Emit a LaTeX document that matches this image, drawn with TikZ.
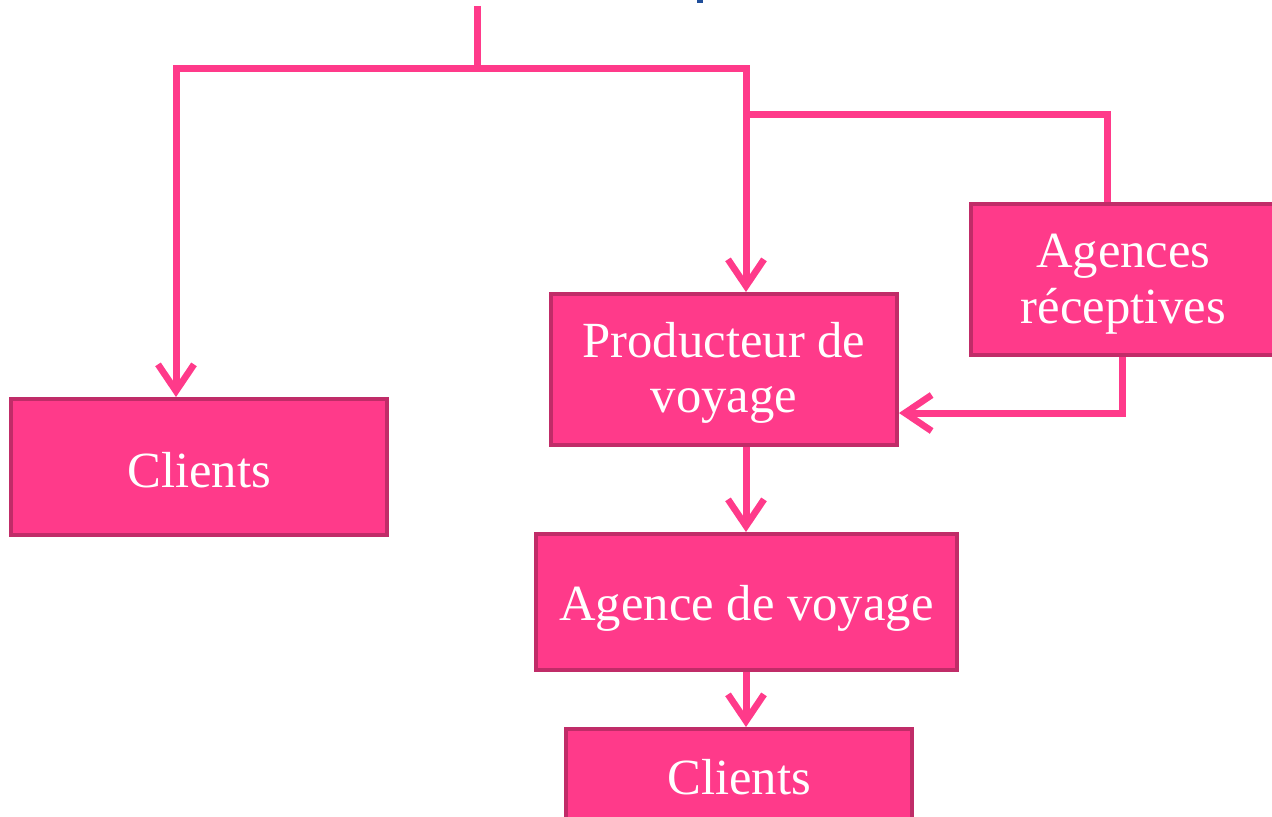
\documentclass[tikz,border=0pt]{standalone}
\usepackage{fontspec}
\setmainfont{Liberation Serif}
\usetikzlibrary{arrows.meta}
\definecolor{pinkfill}{HTML}{FF3A8A}
\definecolor{pinkedge}{HTML}{C02C68}
\definecolor{topblue}{HTML}{1F4E9A}
\tikzset{
  box/.style={draw=pinkedge, fill=pinkfill, line width=3pt, rectangle, inner sep=0pt},
  txt/.style={text=white, align=center, inner sep=0pt, font=\fontsize{38}{41.5}\selectfont},
  conn/.style={draw=pinkfill, line width=5.25pt},
  arr/.style={conn, -{Straight Barb[length=20pt,width=27pt,line width=5pt]}},
}
\begin{document}
\begin{tikzpicture}[x=0.75pt,y=-0.75pt]
\useasboundingbox (0,0) rectangle (1272,817);
\clip (0,0) rectangle (1272,817);
% nodes
\node[box, minimum width=376*0.75pt, minimum height=136*0.75pt,
  label={[txt, yshift=-2.5pt]center:Clients}] (cl1) at (199,467) {};
\node[box, minimum width=346*0.75pt, minimum height=151*0.75pt,
  label={[txt, yshift=-2.5pt]center:Producteur de\\voyage}] (prod) at (724,369.5) {};
\node[box, minimum width=310*0.75pt, minimum height=151*0.75pt,
  label={[txt, xshift=-2pt, yshift=-3.5pt]center:Agences\\réceptives}] (rec) at (1126,279.5) {};
\node[box, minimum width=421*0.75pt, minimum height=136*0.75pt,
  label={[txt, yshift=-4.5pt]center:Agence de voyage}] (agv) at (746.5,602) {};
\node[box, minimum width=346*0.75pt, minimum height=136*0.75pt,
  label={[txt, yshift=15pt]center:Clients}] (cl2) at (739,797) {};
% small cut-off blue mark at top
\fill[topblue] (697,0) rectangle (703,3);
% coordinates
\coordinate (top) at (477,6);
\coordinate (hL) at (176,69);
\coordinate (hR) at (746,69);
\coordinate (hR2) at (746,115);
\coordinate (rt) at (1107,115);
\coordinate (rb) at (1122,413);
% connectors
\draw[conn] (top) -- (top |- hL);
\draw[conn, line cap=rect] (hL) -- (hR);
\draw[arr] (hL) -- (hL |- cl1.north);
\draw[arr] (hR) -- (hR |- prod.north);
\draw[conn] (hR2) -- (rt) -- (rt |- rec.north);
\draw[arr] (rb |- rec.south) -- (rb) -- (prod.east |- rb);
\draw[arr] (prod.south -| hR) -- (hR |- agv.north);
\draw[arr] (agv.south -| hR) -- (hR |- cl2.north);
\end{tikzpicture}
\end{document}
